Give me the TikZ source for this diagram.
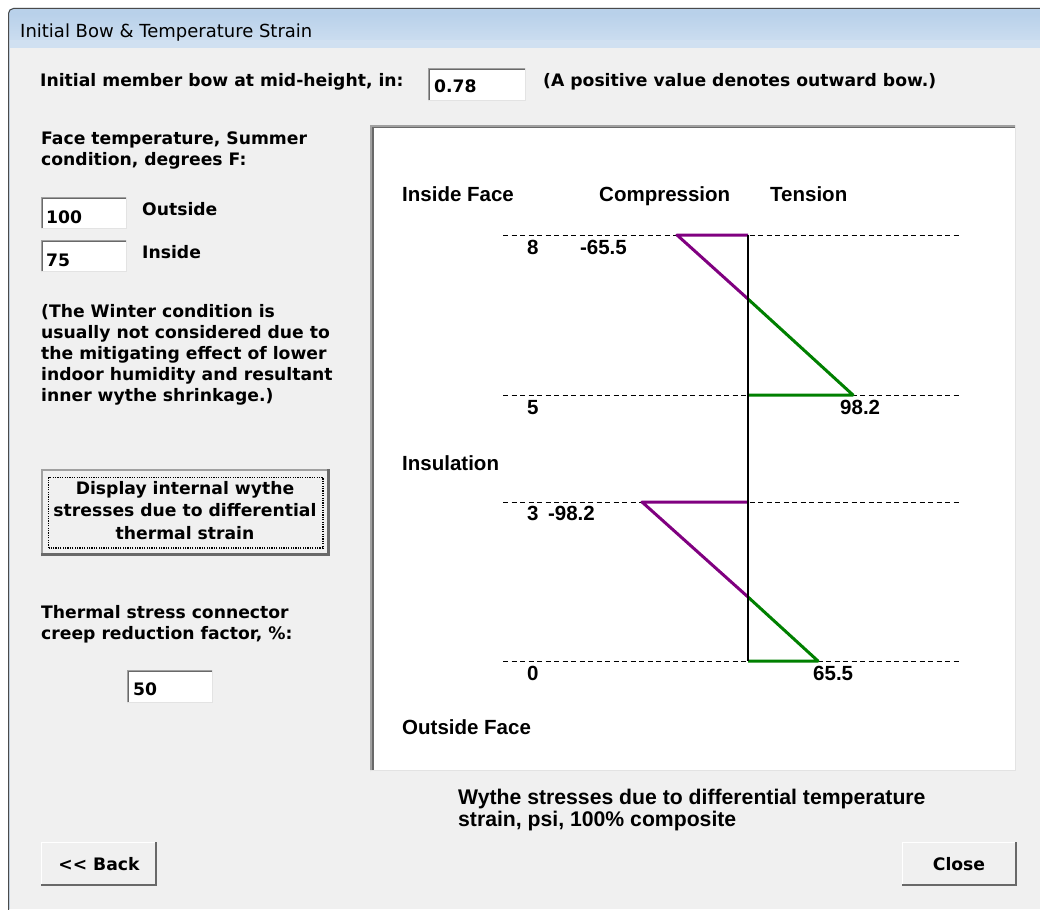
\documentclass[tikz,border=0pt]{standalone}
\usepackage{fontspec}
\newfontfamily\dlg{DejaVu Sans}
\newfontfamily\arl{Liberation Sans}
\definecolor{dlgbg}{HTML}{F0F0F0}
\definecolor{titletop}{HTML}{B9D1EA}
\definecolor{titlebot}{HTML}{D0E0F1}
\definecolor{frameline}{HTML}{4A4A4A}
\definecolor{dkbevel}{HTML}{696969}
\definecolor{mdbevel}{HTML}{A0A0A0}
\definecolor{ltbevel}{HTML}{E3E3E3}
\definecolor{stresspurple}{HTML}{800080}
\definecolor{stressgreen}{HTML}{008000}
\tikzset{
  x=1pt, y=-1pt,
  dtext/.style={font=\dlg\bfseries\fontsize{17.2pt}{21pt}\selectfont, inner sep=0pt, anchor=base west},
  ctext/.style={font=\arl\bfseries\fontsize{20.5pt}{22pt}\selectfont, inner sep=0pt, anchor=base west},
  captext/.style={font=\arl\bfseries\fontsize{21.2pt}{22pt}\selectfont, inner sep=0pt, anchor=base west},
  ttext/.style={font=\dlg\fontsize{18pt}{21pt}\selectfont, inner sep=0pt, anchor=base west},
  tbox/.style={fill=white, draw=none, inner sep=0pt, anchor=north west},
  btnbox/.style={fill=dlgbg, draw=none, inner sep=0pt, anchor=north west},
  dashline/.style={line width=1pt, dash pattern=on 5pt off 3.5pt},
  axisline/.style={line width=1.3pt},
  comp/.style={stresspurple, line width=3pt, line join=round},
  tens/.style={stressgreen, line width=3pt, line join=round},
}
\newcommand\sunkenedge[1]{%
  \draw[mdbevel, line width=1pt] ([xshift=.5pt]#1.south west) -- ([xshift=.5pt,yshift=-.5pt]#1.north west) -- ([yshift=-.5pt]#1.north east);
  \draw[dkbevel, line width=1pt] ([xshift=1.5pt,yshift=1pt]#1.south west) -- ([xshift=1.5pt,yshift=-1.5pt]#1.north west) -- ([xshift=-1pt,yshift=-1.5pt]#1.north east);
  \draw[ltbevel, line width=1pt] ([yshift=.5pt]#1.south west) -- ([xshift=-.5pt,yshift=.5pt]#1.south east) -- ([xshift=-.5pt]#1.north east);}
\newcommand\raisededge[2]{%
  \draw[white, line width=1pt] ([xshift=.5pt]#1.south west) -- ([xshift=.5pt,yshift=-.5pt]#1.north west) -- ([yshift=-.5pt]#1.north east);
  \draw[dkbevel, line width=#2] ([yshift=.5*#2]#1.south west) -- ([xshift=-.5*#2,yshift=.5*#2]#1.south east) -- ([xshift=-.5*#2]#1.north east);}
\begin{document}
\begin{tikzpicture}
\useasboundingbox (0,0) rectangle (1040,909);
\fill[white] (0,0) rectangle (1040,909);
% window frame and title bar
\fill[titletop, rounded corners=5pt] (8,8) rectangle (1060,60);
\fill[top color=titletop, bottom color=titlebot] (9,14) rectangle (1040,48);
\fill[titlebot] (8,40) rectangle (1040,909);
\draw[frameline, line width=1pt, rounded corners=5pt] (8.5,920) -- (8.5,8.5) -- (1060,8.5);
\fill[dlgbg] (10,48) rectangle (1040,909);
\node[ttext] (title) at (20,38) {Initial Bow \& Temperature Strain};

% top row
\node[dtext] (bowlbl) at (40,87) {Initial member bow at mid-height, in:};
\node[tbox, minimum width=98pt, minimum height=33pt] (bowbox) at (428,68) {};
\sunkenedge{bowbox}
\node[dtext] (bowval) at (434,93) {0.78};
\node[dtext] (bownote) at (543,87) {(A positive value denotes outward bow.)};

% chart panel
\node[tbox, minimum width=646pt, minimum height=646pt] (panel) at (370,125) {};
\draw[mdbevel, line width=2pt] ([xshift=1pt]panel.south west) -- ([xshift=1pt,yshift=-1pt]panel.north west) -- ([yshift=-1pt]panel.north east);
\draw[dkbevel, line width=1.5pt] ([xshift=2.75pt,yshift=1pt]panel.south west) -- ([xshift=2.75pt,yshift=-2.75pt]panel.north west) -- ([xshift=-1pt,yshift=-2.75pt]panel.north east);
\draw[ltbevel, line width=1.5pt] ([yshift=.75pt]panel.south west) -- ([xshift=-.75pt,yshift=.75pt]panel.south east) -- ([xshift=-.75pt]panel.north east);

% left column
\node[dtext] (facel1) at (41,145) {Face temperature, Summer};
\node[dtext] (facel2) at (41,166) {condition, degrees F:};
\node[tbox, minimum width=86pt, minimum height=32pt] (outbox) at (41,197) {};
\sunkenedge{outbox}
\node[dtext] (outval) at (46,223) {100};
\node[dtext] (outlbl) at (142,216) {Outside};
\node[tbox, minimum width=86pt, minimum height=32pt] (inbox) at (41,240) {};
\sunkenedge{inbox}
\node[dtext] (inval) at (46,266) {75};
\node[dtext] (inlbl) at (142,258) {Inside};

\node[dtext] (w1) at (41,317) {(The Winter condition is};
\node[dtext] (w2) at (41,338) {usually not considered due to};
\node[dtext] (w3) at (41,359) {the mitigating effect of lower};
\node[dtext] (w4) at (41,380) {indoor humidity and resultant};
\node[dtext] (w5) at (41,401) {inner wythe shrinkage.)};

% default button
\node[btnbox, minimum width=289pt, minimum height=87pt] (dispbtn) at (41,469) {};
\draw[mdbevel, line width=2pt] ([xshift=1pt]dispbtn.south west) -- ([xshift=1pt,yshift=-1pt]dispbtn.north west) -- ([yshift=-1pt]dispbtn.north east);
\draw[dkbevel, line width=3.5pt] ([yshift=1.75pt]dispbtn.south west) -- ([xshift=-1.75pt,yshift=1.75pt]dispbtn.south east) -- ([xshift=-1.75pt]dispbtn.north east);
\draw[black, line width=1.2pt, dash pattern=on 1.2pt off 1.2pt] ([xshift=7.5pt,yshift=8.5pt]dispbtn.south west) rectangle ([xshift=-7.5pt,yshift=-8.5pt]dispbtn.north east);
\node[dtext, anchor=base] (d1) at (185,494) {Display internal wythe};
\node[dtext, anchor=base] (d2) at (185,516) {stresses due to differential};
\node[dtext, anchor=base] (d3) at (185,539) {thermal strain};

\node[dtext] (th1) at (41,618) {Thermal stress connector};
\node[dtext] (th2) at (41,639) {creep reduction factor, \%:};
\node[tbox, minimum width=86pt, minimum height=33pt] (creepbox) at (127,670) {};
\sunkenedge{creepbox}
\node[dtext] (creepval) at (133,695) {50};

% chart headings
\node[ctext] (insideface) at (402,202) {Inside Face};
\node[ctext] (compr) at (599,202) {Compression};
\node[ctext] (tens) at (770,202) {Tension};
\node[ctext] (insul) at (402,470) {Insulation};
\node[ctext] (outsideface) at (402,734) {Outside Face};

% chart geometry
\coordinate (l8) at (503,235); \coordinate (r8) at (960,235);
\coordinate (l5) at (503,395); \coordinate (r5) at (960,395);
\coordinate (l3) at (503,502); \coordinate (r3) at (960,502);
\coordinate (l0) at (503,661); \coordinate (r0) at (960,661);
\draw[dashline] (l8) -- (r8);
\draw[dashline] (l5) -- (r5);
\draw[dashline] (l3) -- (r3);
\draw[dashline] (l0) -- (r0);
\coordinate (ax8) at (748,235);
\coordinate (ax5) at (748,395);
\coordinate (ax3) at (748,502);
\coordinate (ax0) at (748,661);
\coordinate (zt) at (748,299);
\coordinate (zb) at (748,597);
\coordinate (c8) at (677,235);
\coordinate (t5) at (853,395);
\coordinate (c3) at (642,502);
\coordinate (t0) at (818,661);
\draw[comp] (ax8) -- (c8) -- (zt);
\draw[tens] (zt) -- (t5) -- (ax5);
\draw[comp] (ax3) -- (c3) -- (zb);
\draw[tens] (zb) -- (t0) -- (ax0);
\draw[axisline] (ax8) -- (ax0);

\node[ctext] (n8) at (527,254) {8};
\node[ctext] (n5) at (527,414) {5};
\node[ctext] (n3) at (527,520) {3};
\node[ctext] (n0) at (527,680) {0};
\node[ctext, anchor=base east] (v8) at (627,254) {-65.5};
\node[ctext] (v5) at (840,414) {98.2};
\node[ctext, anchor=base east] (v3) at (595,520) {-98.2};
\node[ctext] (v0) at (813,680) {65.5};

% caption
\node[captext] (cap1) at (458,804) {Wythe stresses due to differential temperature};
\node[captext] (cap2) at (458,826) {strain, psi, 100\% composite};

% bottom buttons
\node[btnbox, minimum width=116pt, minimum height=44pt] (backbtn) at (41,842) {};
\raisededge{backbtn}{2pt}
\node[dtext, anchor=base] (backtxt) at (99,870) {<< Back};
\node[btnbox, minimum width=115pt, minimum height=44pt] (closebtn) at (902,842) {};
\raisededge{closebtn}{2pt}
\node[dtext, anchor=base] (closetxt) at (959,870) {Close};
\end{tikzpicture}
\end{document}
